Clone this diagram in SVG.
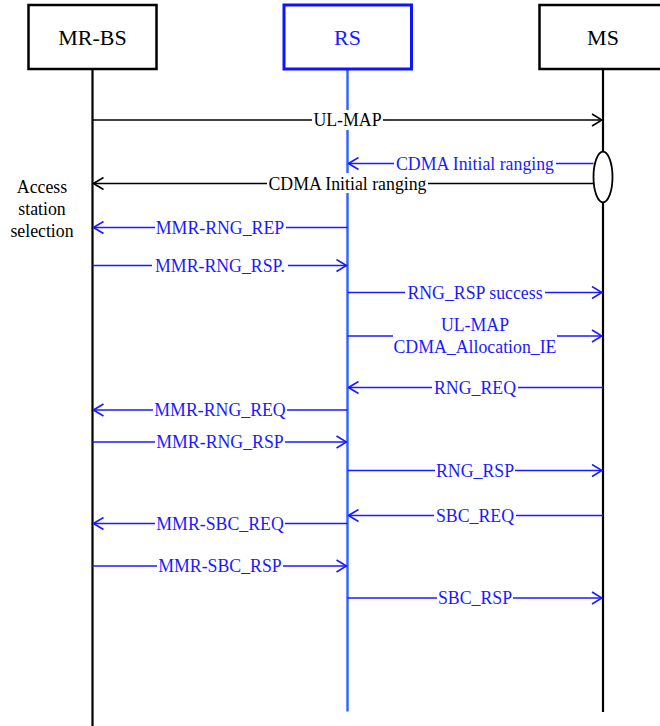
<svg xmlns="http://www.w3.org/2000/svg" width="660" height="726" viewBox="0 0 660 726">
<defs>
<marker id="ab" viewBox="0 0 12 14" refX="11" refY="7" markerWidth="12" markerHeight="14" markerUnits="userSpaceOnUse" orient="auto">
<path d="M1,1 L11,7 L1,13" fill="none" stroke="#000" stroke-width="1.6"/>
</marker>
<marker id="au" viewBox="0 0 12 14" refX="11" refY="7" markerWidth="12" markerHeight="14" markerUnits="userSpaceOnUse" orient="auto">
<path d="M1,1 L11,7 L1,13" fill="none" stroke="#1a1aff" stroke-width="1.6"/>
</marker>
</defs>
<style>
text{font-family:"Liberation Serif","Times New Roman",serif;}
.box{fill:#fff;stroke:#000;stroke-width:2.5;}
.boxb{fill:#fff;stroke:#0a14ff;stroke-width:3;}
.nt{font-size:22px;text-anchor:middle;fill:#000;}
.ntb{font-size:22px;text-anchor:middle;fill:#1a1aff;}
.life{stroke:#000;stroke-width:2.2;fill:none;}
.lifeb{stroke:#3366ff;stroke-width:2.5;fill:none;}
.mk{stroke:#000;stroke-width:1.4;fill:none;marker-end:url(#ab);}
.mu{stroke:#1a1aff;stroke-width:1.4;fill:none;marker-end:url(#au);}
.mu0{stroke:#1a1aff;stroke-width:1.4;fill:none;}
.lk{font-size:17.8px;text-anchor:middle;fill:#000;}
.lu{font-size:17.8px;text-anchor:middle;fill:#1a1aff;}
.bg{fill:#fff;}
</style>
<rect width="660" height="726" fill="#fff"/>
<g id="mrbs">
<line class="life" x1="92.5" y1="69" x2="92.5" y2="726"/>
<rect class="box" x="28.5" y="5" width="128" height="64"/>
<text class="nt" x="92.5" y="44.5">MR-BS</text>
</g>
<g id="rs">
<line class="lifeb" x1="347.5" y1="69" x2="347.5" y2="711.5"/>
<rect class="boxb" x="284" y="5" width="127.5" height="64"/>
<text class="ntb" x="347.5" y="44.5">RS</text>
</g>
<g id="ms">
<line class="life" x1="603" y1="69" x2="603" y2="712"/>
<rect class="box" x="539.5" y="5" width="128" height="64"/>
<text class="nt" x="603" y="44.5">MS</text>
<ellipse cx="603" cy="177" rx="9.5" ry="25.3" fill="#fff" stroke="#000" stroke-width="1.8"/>
</g>
<g id="note">
<text class="lk" x="42" y="193">Access</text>
<text class="lk" x="42" y="215">station</text>
<text class="lk" x="42" y="237">selection</text>
</g>
<g id="connectors">
<line class="mk" x1="92.5" y1="120" x2="602" y2="120"/>
<rect class="bg" x="312" y="110" width="71" height="20"/>
<text class="lk" x="347.5" y="126">UL-MAP</text>

<line class="mu" x1="593.5" y1="163.5" x2="348.5" y2="163.5"/>
<rect class="bg" x="394" y="153" width="162" height="20"/>
<text class="lu" x="475" y="169.5">CDMA Initial ranging</text>

<line class="mk" x1="593.5" y1="183.5" x2="93.5" y2="183.5"/>
<rect class="bg" x="267" y="173" width="161" height="20"/>
<text class="lk" x="347.5" y="189.5">CDMA Initial ranging</text>

<line class="mu" x1="347.5" y1="227.5" x2="93.5" y2="227.5"/>
<rect class="bg" x="155" y="217" width="131" height="20"/>
<text class="lu" x="220" y="233.5">MMR-RNG_REP</text>

<line class="mu" x1="92.5" y1="265.5" x2="346.5" y2="265.5"/>
<rect class="bg" x="152" y="255" width="136" height="20"/>
<text class="lu" x="220" y="271.5">MMR-RNG_RSP.</text>

<line class="mu" x1="347.5" y1="292.5" x2="602" y2="292.5"/>
<rect class="bg" x="405" y="282" width="140" height="20"/>
<text class="lu" x="475" y="298.5">RNG_RSP success</text>

<line class="mu0" x1="347.5" y1="336" x2="393" y2="336"/>
<line class="mu" x1="557" y1="336" x2="602" y2="336"/>
<text class="lu" x="475" y="331">UL-MAP</text>
<text class="lu" x="475" y="352.5">CDMA_Allocation_IE</text>

<line class="mu" x1="603" y1="387.5" x2="348.5" y2="387.5"/>
<rect class="bg" x="432" y="377" width="86" height="20"/>
<text class="lu" x="475" y="393.5">RNG_REQ</text>

<line class="mu" x1="347.5" y1="410" x2="93.5" y2="410"/>
<rect class="bg" x="153" y="400" width="134" height="20"/>
<text class="lu" x="220" y="416">MMR-RNG_REQ</text>

<line class="mu" x1="92.5" y1="442" x2="346.5" y2="442"/>
<rect class="bg" x="155" y="432" width="130" height="20"/>
<text class="lu" x="220" y="448">MMR-RNG_RSP</text>

<line class="mu" x1="347.5" y1="470.5" x2="602" y2="470.5"/>
<rect class="bg" x="435" y="460" width="80" height="20"/>
<text class="lu" x="475" y="476.5">RNG_RSP</text>

<line class="mu" x1="603" y1="515.5" x2="348.5" y2="515.5"/>
<rect class="bg" x="434" y="505" width="82" height="20"/>
<text class="lu" x="475" y="521.5">SBC_REQ</text>

<line class="mu" x1="347.5" y1="523.5" x2="93.5" y2="523.5"/>
<rect class="bg" x="155" y="513" width="130" height="20"/>
<text class="lu" x="220" y="529.5">MMR-SBC_REQ</text>

<line class="mu" x1="92.5" y1="566" x2="346.5" y2="566"/>
<rect class="bg" x="157" y="556" width="126" height="20"/>
<text class="lu" x="220" y="572">MMR-SBC_RSP</text>

<line class="mu" x1="347.5" y1="598" x2="602" y2="598"/>
<rect class="bg" x="437" y="588" width="76" height="20"/>
<text class="lu" x="475" y="604">SBC_RSP</text>
</g>
</svg>
